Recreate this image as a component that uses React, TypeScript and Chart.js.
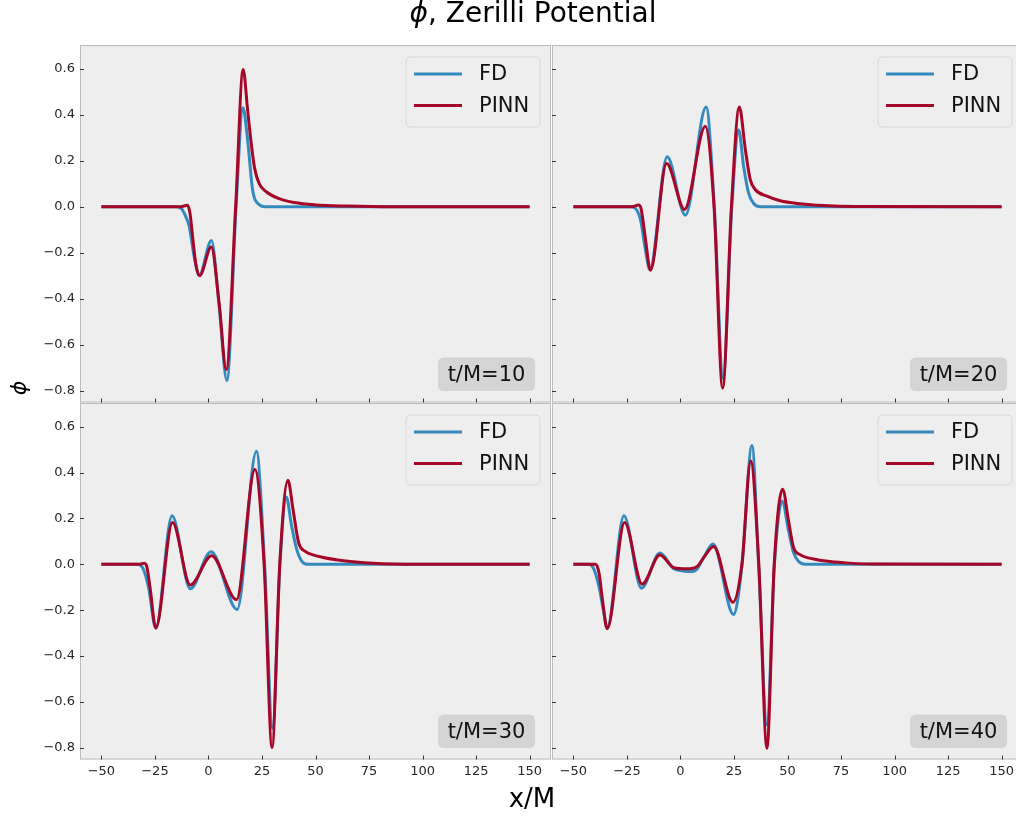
import React, { useEffect, useRef } from 'react';
import { Chart, registerables } from 'chart.js';

Chart.register(...registerables);

const FONT = "'DejaVu Sans', 'Liberation Sans', sans-serif";
const BLUE = '#348ABD';
const RED = '#A60628';

const X_TICKS = [-50, -25, 0, 25, 50, 75, 100, 125, 150];
const Y_TICKS = [-0.8, -0.6, -0.4, -0.2, 0, 0.2, 0.4, 0.6];
const X_RANGE = [-60, 160];
const Y_RANGE = [-0.851, 0.703];
const SERIES_LABELS = ['FD', 'PINN'];
const TIME_LABELS = ['t/M=10', 't/M=20', 't/M=30', 't/M=40'];
const FIG_TITLE = ', Zerilli Potential';
const X_LABEL = 'x/M';
const PHI = '\u03D5';

// t/M = 10
const fdX10 = [-50, -15, -12.5, -10.5, -9, -6.7, -4.3, 1.4, 5, 8.6, 12.9, 16.1, 18.3, 20.6, 23.7, 26.5, 150];
const fdY10 = [0, 0, -0.01, -0.045, -0.085, -0.215, -0.298, -0.147, -0.433, -0.755, 0, 0.43, 0.29, 0.075, 0.009, 0, 0];
const pinnX10 = [-50, -13, -9.8, -8.6, -7.4, -5.9, -4.1, 1.3, 5, 8.3, 12.7, 16.2, 18.3, 19.8, 21.5, 23.7, 27, 33, 40, 50, 65, 85, 150];
const pinnY10 = [0, 0, 0.006, -0.03, -0.13, -0.25, -0.3, -0.175, -0.42, -0.708, 0, 0.597, 0.42, 0.29, 0.17, 0.1, 0.065, 0.035, 0.018, 0.008, 0.003, 0, 0];

// t/M = 20
const fdX20 = [-50, -23.5, -21, -18.6, -16.5, -14.3, -6.2, 2.3, 12.0, 15.8, 19.9, 24.0, 27.2, 29.5, 31.8, 34.2, 37.3, 150];
const fdY20 = [0, 0, -0.008, -0.06, -0.18, -0.273, 0.217, -0.037, 0.433, 0, -0.745, 0, 0.333, 0.176, 0.06, 0.014, 0, 0];
const pinnX20 = [-50, -22.5, -19.6, -18.4, -16.5, -14, -6.5, 1.9, 11.6, 15.7, 19.7, 23.8, 27.5, 30.3, 32.6, 34.9, 40.4, 46.6, 55.9, 66.8, 82, 150];
const pinnY20 = [0, 0, 0.008, -0.008, -0.13, -0.276, 0.188, -0.012, 0.35, 0, -0.789, 0, 0.433, 0.249, 0.118, 0.075, 0.046, 0.026, 0.013, 0.005, 0.001, 0];

// t/M = 30
const fdX30 = [-50, -33, -30.5, -28, -24.6, -17.0, -8.5, 1.2, 13.4, 22.4, 26.2, 29.9, 33.4, 36.4, 38.7, 41.2, 43.7, 46.5, 150];
const fdY30 = [0, 0, -0.02, -0.1, -0.278, 0.211, -0.107, 0.055, -0.197, 0.493, 0, -0.715, 0, 0.293, 0.175, 0.066, 0.012, 0, 0];
const pinnX30 = [-50, -32, -30, -28.8, -27.3, -24.6, -16.8, -8.5, 1.5, 13.1, 21.7, 26, 29.7, 33.3, 37.1, 39.6, 42.1, 45.4, 48.5, 53, 60.4, 68.8, 77.1, 85.4, 100, 150];
const pinnY30 = [0, 0, 0.005, -0.01, -0.1, -0.278, 0.182, -0.09, 0.037, -0.154, 0.413, 0, -0.799, 0, 0.366, 0.233, 0.095, 0.055, 0.042, 0.031, 0.019, 0.01, 0.004, 0.001, 0, 0];

// t/M = 40
const fdX40 = [-50, -42.7, -40.5, -38, -36, -34.2, -26.4, -18.2, -9.6, -3.1, 0, 4.7, 7.8, 10.9, 15.2, 24.8, 28.8, 33.4, 36.5, 40.4, 43.9, 47.5, 50.5, 52.8, 55.1, 58.2, 150];
const fdY40 = [0, 0, -0.02, -0.1, -0.2, -0.278, 0.211, -0.104, 0.049, -0.02, -0.027, -0.032, -0.02, 0.03, 0.088, -0.219, 0, 0.518, 0, -0.7, 0, 0.276, 0.146, 0.052, 0.013, 0, 0];
const pinnX40 = [-50, -39.6, -38, -36.5, -34.2, -26.1, -17.9, -9.6, -3.1, 3.1, 7.8, 10.9, 15.5, 24.5, 28.7, 32.8, 36.6, 40.4, 43.8, 47.7, 50.5, 52.8, 55.9, 62.1, 69.9, 79.2, 90, 150];
const pinnY40 = [0, 0, -0.04, -0.15, -0.281, 0.182, -0.086, 0.04, -0.015, -0.02, -0.01, 0.03, 0.078, -0.166, 0, 0.45, 0, -0.802, 0, 0.327, 0.189, 0.074, 0.042, 0.023, 0.012, 0.005, 0.001, 0];

const PAGE_W = 1030;
const PAGE_H = 817;

type Panel = {
  tag: string;
  fdX: number[]; fdY: number[]; pinnX: number[]; pinnY: number[];
  area: [number, number, number, number];
  xLabels: boolean; yLabels: boolean; figureText: boolean;
};

const PANELS: Panel[] = [
  { tag: TIME_LABELS[0], fdX: fdX10, fdY: fdY10, pinnX: pinnX10, pinnY: pinnY10, area: [80, 45, 551, 402.5], xLabels: false, yLabels: true, figureText: true },
  { tag: TIME_LABELS[1], fdX: fdX20, fdY: fdY20, pinnX: pinnX20, pinnY: pinnY20, area: [552, 45, 1023, 402.5], xLabels: false, yLabels: false, figureText: false },
  { tag: TIME_LABELS[2], fdX: fdX30, fdY: fdY30, pinnX: pinnX30, pinnY: pinnY30, area: [80, 403, 551, 759.5], xLabels: true, yLabels: true, figureText: false },
  { tag: TIME_LABELS[3], fdX: fdX40, fdY: fdY40, pinnX: pinnX40, pinnY: pinnY40, area: [552, 403, 1023, 759.5], xLabels: true, yLabels: false, figureText: false },
];

const toPts = (xs: number[], ys: number[]) => xs.map((x, i) => ({ x, y: ys[i] }));

function roundRect(ctx: CanvasRenderingContext2D, x: number, y: number, w: number, h: number, r: number) {
  ctx.beginPath();
  ctx.moveTo(x + r, y);
  ctx.lineTo(x + w - r, y);
  ctx.quadraticCurveTo(x + w, y, x + w, y + r);
  ctx.lineTo(x + w, y + h - r);
  ctx.quadraticCurveTo(x + w, y + h, x + w - r, y + h);
  ctx.lineTo(x + r, y + h);
  ctx.quadraticCurveTo(x, y + h, x, y + h - r);
  ctx.lineTo(x, y + r);
  ctx.quadraticCurveTo(x, y, x + r, y);
  ctx.closePath();
}

const LINE_W = 3;

function makeDecor(p: Panel) {
  return {
    id: 'decor',
    beforeDraw(chart: any) {
      const { ctx, chartArea: a } = chart;
      ctx.save();
      ctx.fillStyle = '#eeeeee';
      ctx.fillRect(a.left, a.top, a.right - a.left, a.bottom - a.top);
      ctx.restore();
    },
    afterDraw(chart: any) {
      const { ctx, chartArea: a, scales } = chart;
      ctx.save();
      // spines
      ctx.strokeStyle = '#bcbcbc';
      ctx.lineWidth = 1;
      ctx.strokeRect(a.left + 0.5, a.top + 0.5, a.right - a.left - 1, a.bottom - a.top - 1);
      // inward ticks
      ctx.strokeStyle = '#333333';
      ctx.lineWidth = 1;
      ctx.beginPath();
      X_TICKS.forEach((v) => {
        const px = Math.round(scales.x.getPixelForValue(v)) + 0.5;
        ctx.moveTo(px, a.bottom);
        ctx.lineTo(px, a.bottom - 4);
      });
      Y_TICKS.forEach((v) => {
        const py = Math.round(scales.y.getPixelForValue(v)) + 0.5;
        ctx.moveTo(a.left, py);
        ctx.lineTo(a.left + 4, py);
      });
      ctx.stroke();

      // legend
      const lw = 134, lh = 70;
      const bx = a.right - 11 - lw, by = a.top + 12;
      roundRect(ctx, bx, by, lw, lh, 5);
      ctx.fillStyle = 'rgba(238,238,238,0.8)';
      ctx.fill();
      ctx.strokeStyle = '#d8d8d8';
      ctx.lineWidth = 1;
      ctx.stroke();
      const rows = [
        { label: SERIES_LABELS[0], color: BLUE, y: by + 17 },
        { label: SERIES_LABELS[1], color: RED, y: by + 48.5 },
      ];
      ctx.font = `21px ${FONT}`;
      ctx.textBaseline = 'middle';
      ctx.textAlign = 'left';
      rows.forEach((r) => {
        ctx.strokeStyle = r.color;
        ctx.lineWidth = LINE_W;
        ctx.beginPath();
        ctx.moveTo(bx + 8, r.y);
        ctx.lineTo(bx + 56, r.y);
        ctx.stroke();
        ctx.fillStyle = '#111111';
        ctx.fillText(r.label, bx + 73, r.y + 1);
      });

      // time tag
      const tw = 97, th = 33.5;
      const tx = a.right - 16 - tw, ty = a.bottom - 11.5 - th;
      roundRect(ctx, tx, ty, tw, th, 6);
      ctx.fillStyle = '#d4d4d4';
      ctx.fill();
      ctx.fillStyle = '#111111';
      ctx.textAlign = 'center';
      ctx.fillText(p.tag, tx + tw / 2, ty + th / 2 + 1);

      if (p.figureText) {
        // title
        ctx.textBaseline = 'middle';
        const tSize = 28;
        ctx.font = `italic ${tSize}px ${FONT}`;
        const wPhi = ctx.measureText(PHI).width;
        ctx.font = `${tSize}px ${FONT}`;
        const wRest = ctx.measureText(FIG_TITLE).width;
        const startX = 533 - (wPhi + wRest) / 2;
        ctx.textAlign = 'left';
        ctx.fillStyle = '#000000';
        ctx.font = `italic ${tSize}px ${FONT}`;
        ctx.fillText(PHI, startX, 15);
        ctx.font = `${tSize}px ${FONT}`;
        ctx.fillText(FIG_TITLE, startX + wPhi, 15);
        // x label
        ctx.textAlign = 'center';
        ctx.font = `26px ${FONT}`;
        ctx.fillText(X_LABEL, 532, 800);
        // y label
        ctx.save();
        ctx.translate(20, 388);
        ctx.rotate(-Math.PI / 2);
        ctx.font = `italic 22px ${FONT}`;
        ctx.fillText(PHI, 0, 0);
        ctx.restore();
      }
      ctx.restore();
    },
  };
}

function PanelChart({ panel }: { panel: Panel }) {
  const ref = useRef<HTMLCanvasElement | null>(null);
  useEffect(() => {
    if (!ref.current) return;
    const [left, top, right, bottom] = panel.area;
    const yW = panel.yLabels ? 60 : 0;
    const xH = panel.xLabels ? 30 : 0;
    const fmtY = (v: number) => (Math.abs(v) < 1e-9 ? '0.0' : Number(v).toFixed(1).replace('-', '\u2212'));
    const fmtX = (v: number) => String(v).replace('-', '\u2212');
    const chart = new Chart(ref.current, {
      type: 'line',
      data: {
        datasets: [
          {
            label: SERIES_LABELS[0],
            data: toPts(panel.fdX, panel.fdY),
            borderColor: BLUE,
            borderWidth: LINE_W,
            pointRadius: 0,
            fill: false,
            order: 2,
            cubicInterpolationMode: 'monotone',
          },
          {
            label: SERIES_LABELS[1],
            data: toPts(panel.pinnX, panel.pinnY),
            borderColor: RED,
            borderWidth: LINE_W,
            pointRadius: 0,
            fill: false,
            order: 1,
            cubicInterpolationMode: 'monotone',
          },
        ],
      },
      options: {
        responsive: false,
        animation: false,
        devicePixelRatio: 1,
        events: [],
        layout: {
          padding: {
            left: left - yW,
            top: top,
            right: PAGE_W - right,
            bottom: PAGE_H - bottom - xH,
          },
        },
        plugins: {
          legend: { display: false },
          tooltip: { enabled: false },
          title: { display: false },
        },
        scales: {
          x: {
            type: 'linear',
            min: X_RANGE[0],
            max: X_RANGE[1],
            grid: { display: false, drawTicks: false },
            border: { display: false },
            afterBuildTicks: (s: any) => {
              s.ticks = X_TICKS.map((v) => ({ value: v }));
            },
            afterFit: (s: any) => {
              s.height = xH;
            },
            ticks: {
              display: panel.xLabels,
              autoSkip: false,
              maxRotation: 0,
              padding: 4,
              color: '#262626',
              font: { family: FONT, size: 13 },
              callback: (v: any) => fmtX(v),
            },
          },
          y: {
            type: 'linear',
            min: Y_RANGE[0],
            max: Y_RANGE[1],
            grid: { display: false, drawTicks: false },
            border: { display: false },
            afterBuildTicks: (s: any) => {
              s.ticks = Y_TICKS.map((v) => ({ value: v }));
            },
            afterFit: (s: any) => {
              s.width = yW;
            },
            ticks: {
              display: panel.yLabels,
              autoSkip: false,
              padding: 5,
              color: '#262626',
              font: { family: FONT, size: 13 },
              callback: (v: any) => fmtY(v),
            },
          },
        },
      } as any,
      plugins: [makeDecor(panel)],
    });
    return () => chart.destroy();
  }, [panel]);
  return (
    <canvas
      ref={ref}
      width={PAGE_W}
      height={PAGE_H}
      style={{ position: 'absolute', left: 0, top: 0, width: PAGE_W, height: PAGE_H }}
    />
  );
}

export default function App() {
  return (
    <div
      style={{
        position: 'absolute',
        left: 0,
        top: 0,
        width: 1016,
        height: 817,
        overflow: 'hidden',
        background: '#ffffff',
      }}
    >
      {PANELS.map((p, i) => (
        <PanelChart key={i} panel={p} />
      ))}
    </div>
  );
}
